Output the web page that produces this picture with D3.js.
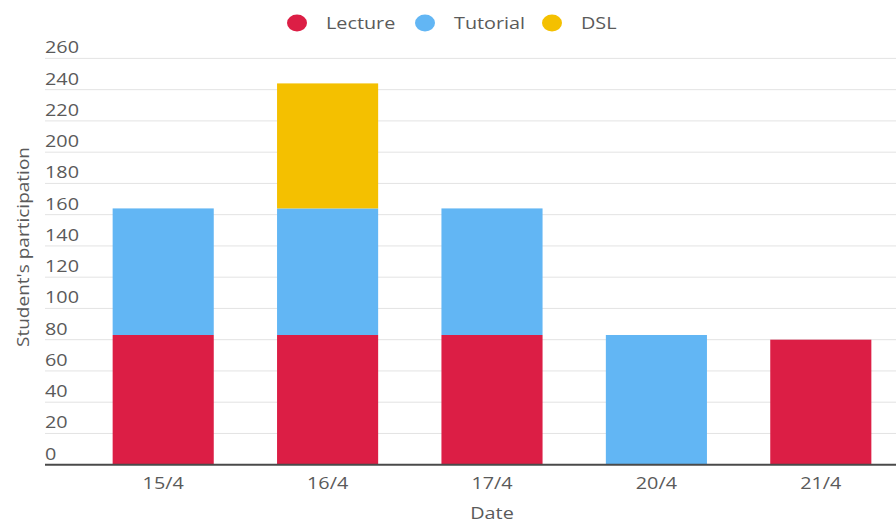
<!DOCTYPE html>
<html>
<head>
<meta charset="utf-8">
<script src="https://cdn.jsdelivr.net/npm/d3@7"></script>
<style>
  html, body { margin: 0; padding: 0; background: #fff; }
  svg { display: block; font-family: "Open Sans", Lato, sans-serif; }
</style>
</head>
<body>
<svg id="chart" width="896" height="523"></svg>
<script>
// Participation per session date, stacked by session type
const dates = ["15/4", "16/4", "17/4", "20/4", "21/4"];
const seriesNames = ["Lecture", "Tutorial", "DSL"];
const lecture = [83, 83, 83, 0, 80];
const tutorial = [81, 81, 81, 83, 0];
const dsl = [0, 80, 0, 0, 0];
const yTicks = [0, 20, 40, 60, 80, 100, 120, 140, 160, 180, 200, 220, 240, 260];
const colors = ["#dc1e45", "#62b6f4", "#f4c000"];

const svg = d3.select("#chart");
const W = 896, H = 523;
const gridLeft = 45, plotLeft = 81, plotRight = 903, plotTop = 58.4, plotBottom = 464.7;
const textColor = "#5a5a5a", fontSize = 16.5, stretch = "scale(1.2,1)";

const rows = dates.map((d, i) => ({ date: d, Lecture: lecture[i], Tutorial: tutorial[i], DSL: dsl[i] }));
const stacked = d3.stack().keys(seriesNames)(rows);

const x = d3.scaleBand().domain(dates).range([plotLeft, plotRight])
  .paddingInner(0.385).paddingOuter(0.1925);
const y = d3.scaleLinear().domain([0, 260]).range([plotBottom, plotTop]);
const color = d3.scaleOrdinal().domain(seriesNames).range(colors);

// horizontal grid lines with labels sitting above each line
const grid = svg.append("g");
grid.selectAll("line").data(yTicks.filter(t => t > 0)).join("line")
  .attr("x1", gridLeft).attr("x2", W)
  .attr("y1", d => y(d)).attr("y2", d => y(d))
  .attr("stroke", "#e3e3e3").attr("stroke-width", 1);
grid.selectAll("g").data(yTicks).join("g")
  .attr("transform", d => `translate(${gridLeft},${y(d) - 5})`)
  .append("text")
  .attr("transform", stretch)
  .attr("fill", textColor).attr("font-size", fontSize)
  .text(d => d);

// stacked bars
svg.append("g").selectAll("g").data(stacked).join("g")
  .attr("fill", d => color(d.key))
  .selectAll("rect").data(d => d.filter(s => s[1] - s[0] > 0)).join("rect")
  .attr("x", d => x(d.data.date))
  .attr("width", x.bandwidth())
  .attr("y", d => y(d[1]))
  .attr("height", d => y(d[0]) - y(d[1]));

// baseline
svg.append("line").attr("x1", gridLeft).attr("x2", W)
  .attr("y1", plotBottom).attr("y2", plotBottom)
  .attr("stroke", "#4a4a4a").attr("stroke-width", 2);

// x axis labels
const xAxis = svg.append("g").attr("transform", `translate(0,${plotBottom})`)
  .call(d3.axisBottom(x).tickSize(0).tickPadding(0));
xAxis.select(".domain").remove();
xAxis.selectAll("text")
  .attr("y", 0).attr("dy", null)
  .attr("transform", `translate(0,24.5) ${stretch}`)
  .attr("fill", textColor).attr("font-size", fontSize)
  .attr("font-family", "'Open Sans', Lato, sans-serif");

// axis titles
svg.append("g")
  .attr("transform", `translate(${x("17/4") + x.bandwidth() / 2},519)`)
  .append("text").attr("transform", stretch)
  .attr("text-anchor", "middle").attr("fill", textColor).attr("font-size", fontSize)
  .text("Date");
svg.append("text")
  .attr("transform", `translate(29,247) rotate(-90)`)
  .attr("text-anchor", "middle").attr("fill", textColor).attr("font-size", 16.5)
  .attr("textLength", 200).attr("lengthAdjust", "spacingAndGlyphs")
  .text("Student's participation");

// legend
const legendX = [297, 425, 552];
const legend = svg.append("g").selectAll("g").data(seriesNames).join("g")
  .attr("transform", (d, i) => `translate(${legendX[i]},23)`);
legend.append("ellipse").attr("rx", 10).attr("ry", 8.5).attr("fill", d => color(d));
legend.append("text").attr("transform", `translate(29,6) ${stretch}`)
  .attr("fill", textColor).attr("font-size", fontSize).text(d => d);
</script>
</body>
</html>
